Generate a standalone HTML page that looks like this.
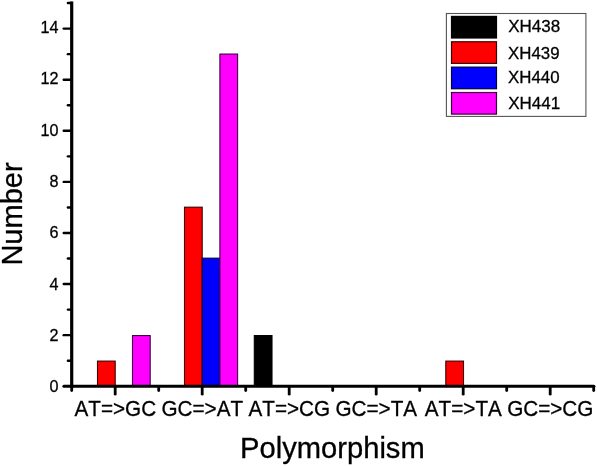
<!DOCTYPE html>
<html><head><meta charset="utf-8"><title>Polymorphism chart</title>
<style>html,body{margin:0;padding:0;background:#fff}body{width:597px;height:466px;overflow:hidden}</style></head>
<body>
<svg width="597" height="466" viewBox="0 0 597 466" style="display:block">
<rect width="597" height="466" fill="#fff"/>
<rect x="97.50" y="361.10" width="17.70" height="25.15" fill="#ff0000" stroke="#3c0000" stroke-width="1.1"/>
<rect x="132.50" y="335.56" width="17.70" height="50.69" fill="#ff00ff" stroke="#3c003c" stroke-width="1.1"/>
<rect x="184.50" y="207.19" width="17.70" height="179.06" fill="#ff0000" stroke="#3c0000" stroke-width="1.1"/>
<rect x="202.20" y="258.17" width="17.70" height="128.08" fill="#0000ff" stroke="#00003c" stroke-width="1.1"/>
<rect x="219.90" y="54.06" width="17.70" height="332.19" fill="#ff00ff" stroke="#3c003c" stroke-width="1.1"/>
<rect x="254.30" y="335.56" width="17.70" height="50.69" fill="#000" stroke="#000" stroke-width="1.1"/>
<rect x="445.80" y="361.10" width="17.70" height="25.15" fill="#ff0000" stroke="#3c0000" stroke-width="1.1"/>
<g stroke="#000" fill="none" stroke-linecap="butt">
<line x1="71.7" y1="1.5" x2="71.7" y2="387.75" stroke-width="3.2"/>
<line x1="63.9" y1="386.35" x2="593.9" y2="386.35" stroke-width="3.0" stroke-linecap="round"/>
<line x1="67.9" y1="360.70" x2="71.7" y2="360.70" stroke-width="2.4" stroke-linecap="round"/>
<line x1="63.7" y1="335.16" x2="71.7" y2="335.16" stroke-width="2.4" stroke-linecap="round"/>
<line x1="67.9" y1="309.62" x2="71.7" y2="309.62" stroke-width="2.4" stroke-linecap="round"/>
<line x1="63.7" y1="284.07" x2="71.7" y2="284.07" stroke-width="2.4" stroke-linecap="round"/>
<line x1="67.9" y1="258.52" x2="71.7" y2="258.52" stroke-width="2.4" stroke-linecap="round"/>
<line x1="63.7" y1="232.98" x2="71.7" y2="232.98" stroke-width="2.4" stroke-linecap="round"/>
<line x1="67.9" y1="207.44" x2="71.7" y2="207.44" stroke-width="2.4" stroke-linecap="round"/>
<line x1="63.7" y1="181.89" x2="71.7" y2="181.89" stroke-width="2.4" stroke-linecap="round"/>
<line x1="67.9" y1="156.34" x2="71.7" y2="156.34" stroke-width="2.4" stroke-linecap="round"/>
<line x1="63.7" y1="130.80" x2="71.7" y2="130.80" stroke-width="2.4" stroke-linecap="round"/>
<line x1="67.9" y1="105.25" x2="71.7" y2="105.25" stroke-width="2.4" stroke-linecap="round"/>
<line x1="63.7" y1="79.71" x2="71.7" y2="79.71" stroke-width="2.4" stroke-linecap="round"/>
<line x1="67.9" y1="54.16" x2="71.7" y2="54.16" stroke-width="2.4" stroke-linecap="round"/>
<line x1="63.7" y1="28.62" x2="71.7" y2="28.62" stroke-width="2.4" stroke-linecap="round"/>
<line x1="67.9" y1="3.07" x2="71.7" y2="3.07" stroke-width="2.4" stroke-linecap="round"/>
<line x1="115.20" y1="386.85" x2="115.20" y2="394.2" stroke-width="2.8" stroke-linecap="round"/>
<line x1="202.20" y1="386.85" x2="202.20" y2="394.2" stroke-width="2.8" stroke-linecap="round"/>
<line x1="289.20" y1="386.85" x2="289.20" y2="394.2" stroke-width="2.8" stroke-linecap="round"/>
<line x1="376.20" y1="386.85" x2="376.20" y2="394.2" stroke-width="2.8" stroke-linecap="round"/>
<line x1="463.20" y1="386.85" x2="463.20" y2="394.2" stroke-width="2.8" stroke-linecap="round"/>
<line x1="550.20" y1="386.85" x2="550.20" y2="394.2" stroke-width="2.8" stroke-linecap="round"/>
<line x1="71.70" y1="386.85" x2="71.70" y2="390.5" stroke-width="2.8" stroke-linecap="round"/>
<line x1="158.70" y1="386.85" x2="158.70" y2="390.5" stroke-width="2.8" stroke-linecap="round"/>
<line x1="245.70" y1="386.85" x2="245.70" y2="390.5" stroke-width="2.8" stroke-linecap="round"/>
<line x1="332.70" y1="386.85" x2="332.70" y2="390.5" stroke-width="2.8" stroke-linecap="round"/>
<line x1="419.70" y1="386.85" x2="419.70" y2="390.5" stroke-width="2.8" stroke-linecap="round"/>
<line x1="506.70" y1="386.85" x2="506.70" y2="390.5" stroke-width="2.8" stroke-linecap="round"/>
<line x1="593.70" y1="386.85" x2="593.70" y2="390.5" stroke-width="2.8" stroke-linecap="round"/>
</g>
<g font-family="'Liberation Sans', sans-serif" fill="#000" stroke="#000" stroke-width="0.3" style="font-kerning:none">
<text transform="translate(58.40,392.15) scale(0.94,1)" font-size="17.2" text-anchor="end">0</text>
<text transform="translate(58.40,340.86) scale(0.94,1)" font-size="17.2" text-anchor="end">2</text>
<text transform="translate(58.40,289.57) scale(0.94,1)" font-size="17.2" text-anchor="end">4</text>
<text transform="translate(58.40,238.28) scale(0.94,1)" font-size="17.2" text-anchor="end">6</text>
<text transform="translate(58.40,186.99) scale(0.94,1)" font-size="17.2" text-anchor="end">8</text>
<text transform="translate(58.40,135.70) scale(0.94,1)" font-size="17.2" text-anchor="end">10</text>
<text transform="translate(58.40,84.41) scale(0.94,1)" font-size="17.2" text-anchor="end">12</text>
<text transform="translate(58.40,33.12) scale(0.94,1)" font-size="17.2" text-anchor="end">14</text>
<text transform="translate(115.30,415.85) scale(0.971,1)" font-size="21.3" text-anchor="middle">AT=&gt;GC</text>
<text transform="translate(202.30,415.85) scale(0.971,1)" font-size="21.3" text-anchor="middle">GC=&gt;AT</text>
<text transform="translate(289.30,415.85) scale(0.971,1)" font-size="21.3" text-anchor="middle">AT=&gt;CG</text>
<text transform="translate(376.30,415.85) scale(0.971,1)" font-size="21.3" text-anchor="middle">GC=&gt;TA</text>
<text transform="translate(463.30,415.85) scale(0.971,1)" font-size="21.3" text-anchor="middle">AT=&gt;TA</text>
<text transform="translate(550.30,415.85) scale(0.971,1)" font-size="21.3" text-anchor="middle">GC=&gt;CG</text>
<text transform="translate(332.40,457.50) scale(1.0125,1)" font-size="28.8" text-anchor="middle">Polymorphism</text>
<text transform="translate(21.8,214.0) rotate(-90) scale(1.008,1)" font-size="28.8" text-anchor="middle">Number</text>
</g>
<rect x="446.4" y="13.5" width="139.5" height="102.9" fill="#fff" stroke="#555" stroke-width="1.1"/>
<g font-family="'Liberation Sans', sans-serif" fill="#000" stroke="#000" stroke-width="0.3" style="font-kerning:none">
<rect x="451.5" y="16.40" width="45.0" height="21.6" fill="#000" stroke="#000" stroke-width="1.2"/>
<text transform="translate(508.20,32.40) scale(1.0,1)" font-size="17" text-anchor="start">XH438</text>
<rect x="451.5" y="41.77" width="45.0" height="21.6" fill="#ff0000" stroke="#3c0000" stroke-width="1.2"/>
<text transform="translate(508.00,58.80) scale(0.992,1)" font-size="17" text-anchor="start">XH439</text>
<rect x="451.5" y="67.14" width="45.0" height="21.6" fill="#0000ff" stroke="#00003c" stroke-width="1.2"/>
<text transform="translate(508.00,83.00) scale(0.992,1)" font-size="17" text-anchor="start">XH440</text>
<rect x="451.5" y="92.51" width="45.0" height="21.6" fill="#ff00ff" stroke="#3c003c" stroke-width="1.2"/>
<text transform="translate(508.20,109.10) scale(1.0,1)" font-size="17" text-anchor="start">XH441</text>
</g>
</svg>
</body></html>
